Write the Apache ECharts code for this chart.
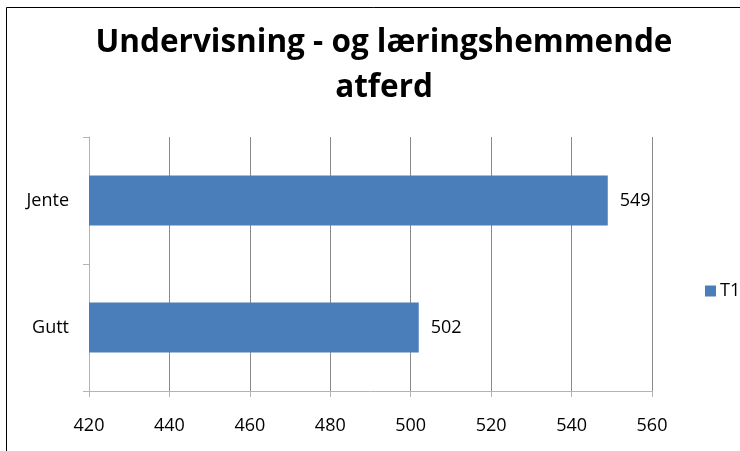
<!DOCTYPE html>
<html><head><meta charset="utf-8">
<script src="https://cdn.jsdelivr.net/npm/echarts@6/dist/echarts.min.js"></script>
<style>html,body{margin:0;padding:0;background:#fff}#c{width:740px;height:451px}</style>
</head><body><div id="c"></div>
<script>
const categories = ['Gutt', 'Jente'];
const seriesName = 'T1';
const values = [502, 549];
const xMin = 420, xMax = 560, xStep = 20;
const titleText = 'Undervisning - og læringshemmende\natferd';

const chart = echarts.init(document.getElementById('c'), null, {renderer: 'canvas'});
chart.setOption({
  animation: false,
  backgroundColor: '#fff',
  graphic: [{type: 'rect', shape: {x: 6.5, y: 7.5, width: 800, height: 500}, style: {fill: 'none', stroke: '#000', lineWidth: 1}, silent: true}],
  title: {
    text: titleText, left: 379, top: 16, textAlign: 'center',
    textStyle: {fontFamily: 'Open Sans', fontWeight: 'bold', fontSize: 31.5, lineHeight: 45, color: '#000'}
  },
  legend: {
    data: [seriesName], left: 700, top: 277, itemWidth: 11, itemHeight: 11, itemGap: 4,
    icon: 'rect', textStyle: {fontFamily: 'Open Sans', fontSize: 18, color: '#000', padding: [0,0,0,-1]}
  },
  grid: {left: 89, top: 137, width: 563, height: 254, containLabel: false},
  xAxis: {
    type: 'value', min: xMin, max: xMax, interval: xStep,
    axisLine: {show: true, lineStyle: {color: '#b4b4b4', width: 1}},
    axisTick: {show: true, length: 6, lineStyle: {color: '#b4b4b4'}},
    axisLabel: {fontFamily: 'Open Sans', fontSize: 18, color: '#000', margin: 26},
    splitLine: {show: true, lineStyle: {color: '#8a8a8a', width: 1}}
  },
  yAxis: {
    type: 'category', data: categories,
    axisLine: {show: true, lineStyle: {color: '#b4b4b4', width: 1}},
    axisTick: {show: true, length: 6, lineStyle: {color: '#b4b4b4'}},
    axisLabel: {fontFamily: 'Open Sans', fontSize: 18, color: '#000', margin: 20},
    splitLine: {show: false}
  },
  series: [{
    name: seriesName, type: 'bar', data: values, barWidth: 50,
    itemStyle: {color: '#4a7ebb'},
    label: {show: true, position: 'right', distance: 12, fontFamily: 'Open Sans', fontSize: 18, color: '#000'}
  }]
});
</script></body></html>
